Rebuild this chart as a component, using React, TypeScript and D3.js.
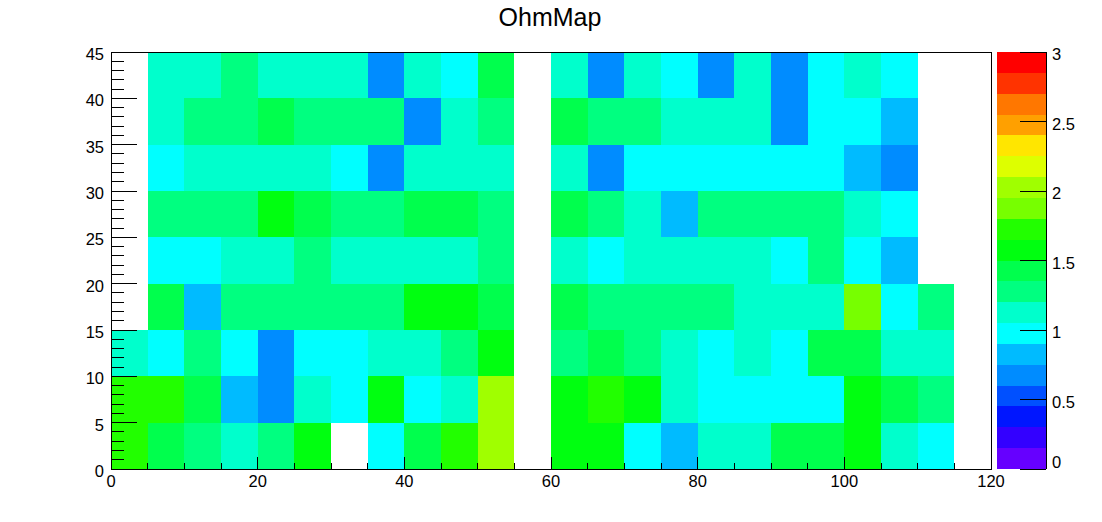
import React from "react";
import * as d3 from "d3";

// Bin edges
const xBinEdges = [0, 120];
const yBinEdges = [0, 45];
const binWidthX = 5;
const binWidthY = 5;

// Cell values, one array per y-bin (y = 0-5, 5-10, ... 40-45), 24 x-bins each (x = 0..120 step 5)
const row0 = [1.74, 1.41, 1.29, 1.13, 1.26, 1.57, null, 0.99, 1.44, 1.71, 2.04, null, 1.59, 1.56, 1.01, 0.84, 1.11, 1.14, 1.42, 1.38, 1.61, 1.12, 0.96, null];
const row1 = [1.73, 1.75, 1.44, 0.82, 0.69, 1.13, 0.97, 1.58, 1.0, 1.1, 2.01, null, 1.57, 1.69, 1.6, 1.12, 0.98, 0.99, 1.02, 0.97, 1.59, 1.41, 1.27, null];
const row2 = [1.15, 0.98, 1.3, 1.01, 0.71, 0.99, 0.96, 1.12, 1.14, 1.27, 1.56, null, 1.29, 1.44, 1.31, 1.13, 0.97, 1.11, 1.02, 1.43, 1.46, 1.13, 1.16, null];
const row3 = [null, 1.44, 0.81, 1.28, 1.3, 1.26, 1.27, 1.31, 1.58, 1.62, 1.43, null, 1.42, 1.28, 1.32, 1.29, 1.27, 1.14, 1.12, 1.16, 1.87, 0.99, 1.3, null];
const row4 = [null, 0.98, 1.01, 1.12, 1.15, 1.29, 1.13, 1.11, 1.16, 1.14, 1.31, null, 1.13, 0.97, 1.12, 1.15, 1.13, 1.14, 1.0, 1.29, 0.99, 0.84, null, null];
const row5 = [null, 1.28, 1.31, 1.27, 1.59, 1.42, 1.29, 1.3, 1.44, 1.46, 1.27, null, 1.43, 1.29, 1.13, 0.82, 1.28, 1.3, 1.27, 1.31, 1.12, 0.98, null, null];
const row6 = [null, 0.99, 1.14, 1.12, 1.15, 1.13, 1.01, 0.69, 1.12, 1.14, 1.16, null, 1.13, 0.7, 0.98, 1.0, 0.97, 1.02, 0.99, 0.98, 0.83, 0.72, null, null];
const row7 = [null, 1.13, 1.29, 1.27, 1.43, 1.3, 1.28, 1.31, 0.7, 1.12, 1.29, null, 1.44, 1.28, 1.3, 1.14, 1.12, 1.13, 0.68, 0.99, 1.01, 0.82, null, null];
const row8 = [null, 1.12, 1.14, 1.28, 1.13, 1.15, 1.12, 0.7, 1.13, 0.99, 1.42, null, 1.12, 0.71, 1.14, 0.98, 0.69, 1.13, 0.7, 1.0, 1.15, 0.97, null, null];
const rows = [row0, row1, row2, row3, row4, row5, row6, row7, row8];

// Colour scale
const zDomain = [0, 3];
const paletteColors = [
  "#6600ff", "#3300ff", "#0016ff", "#0050ff", "#008cff",
  "#00bbff", "#00ffff", "#00ffcc", "#00ff80", "#00ff4d",
  "#00ff10", "#22ff00", "#77ff00", "#a0ff00", "#ddff00",
  "#ffe600", "#ffa000", "#ff7700", "#ff3300", "#ff0000",
];

// Tick labels
const xTickLabels = [0, 20, 40, 60, 80, 100, 120];
const yTickLabels = [0, 5, 10, 15, 20, 25, 30, 35, 40, 45];
const zTickLabels = ["0", "0.5", "1", "1.5", "2", "2.5", "3"];
const title = "OhmMap";

const FONT = "'Liberation Sans', Arial, Helvetica, sans-serif";

export default function App() {
  const W = 1102, H = 522;
  const left = 111, right = 991, top = 52, bottom = 469;
  const palLeft = 997, palRight = 1046;

  const x = d3.scaleLinear().domain(xBinEdges).range([left, right]);
  const y = d3.scaleLinear().domain(yBinEdges).range([bottom, top]);
  const z = d3.scaleLinear().domain(zDomain).range([bottom, top]);
  const color = d3.scaleQuantize<string>().domain(zDomain as [number, number]).range(paletteColors);

  const cells: React.ReactNode[] = [];
  rows.forEach((row, j) => {
    row.forEach((v, i) => {
      if (v === null || v === undefined) return;
      const x0 = x(i * binWidthX), x1 = x((i + 1) * binWidthX);
      const y0 = y((j + 1) * binWidthY), y1 = y(j * binWidthY);
      cells.push(
        <rect key={`c${i}-${j}`} x={x0} y={y0} width={x1 - x0} height={y1 - y0} fill={color(v)} shapeRendering="crispEdges" />
      );
    });
  });

  const xMinor = d3.range(0, 120 + 0.001, 5);
  const yMinor = d3.range(0, 45 + 0.001, 1);

  const step = (zDomain[1] - zDomain[0]) / paletteColors.length;

  return (
    <svg width={W} height={H} style={{ position: "absolute", left: 0, top: 0, display: "block" }} fontFamily={FONT}>
      <rect x={0} y={0} width={W} height={H} fill="white" />
      <text x={550} y={26} textAnchor="middle" fontSize={25} fill="#000">{title}</text>
      {cells}
      {/* frame */}
      <rect x={left} y={top} width={right - left} height={bottom - top} fill="none" stroke="#000" strokeWidth={1} shapeRendering="crispEdges" />
      {/* x ticks */}
      {xMinor.map((t) => {
        const major = xTickLabels.includes(t);
        return <line key={`xt${t}`} x1={x(t)} x2={x(t)} y1={bottom} y2={bottom - (major ? 12 : 6)} stroke="#000" shapeRendering="crispEdges" />;
      })}
      {xTickLabels.map((t) => (
        <text key={`xl${t}`} x={x(t)} y={487} textAnchor="middle" fontSize={16.5} fill="#000">{t}</text>
      ))}
      {/* y ticks */}
      {yMinor.map((t) => {
        const major = yTickLabels.includes(t);
        return <line key={`yt${t}`} x1={left} x2={left + (major ? 26 : 13)} y1={y(t)} y2={y(t)} stroke="#000" shapeRendering="crispEdges" />;
      })}
      {yTickLabels.map((t) => (
        <text key={`yl${t}`} x={104} y={y(t) + 8} textAnchor="end" fontSize={16.5} fill="#000">{t}</text>
      ))}
      {/* palette */}
      {paletteColors.map((c, k) => (
        <rect key={`p${k}`} x={palLeft} y={z((k + 1) * step)} width={palRight - palLeft} height={z(k * step) - z((k + 1) * step)} fill={c} shapeRendering="crispEdges" />
      ))}
      <line x1={palRight} x2={palRight} y1={top} y2={bottom} stroke="#000" shapeRendering="crispEdges" />
      {zTickLabels.map((lab) => {
        const t = +lab;
        return (
          <g key={`z${lab}`}>
            <line x1={palRight - 26} x2={palRight} y1={z(t)} y2={z(t)} stroke="#000" shapeRendering="crispEdges" />
            <text x={1052} y={Math.min(z(t) + 8, bottom - 1)} fontSize={16.5} fill="#000">{lab}</text>
          </g>
        );
      })}
    </svg>
  );
}
